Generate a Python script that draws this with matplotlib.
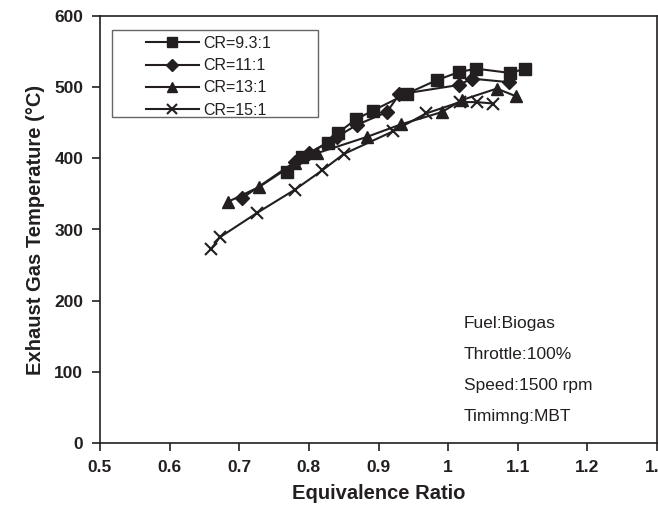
import matplotlib
matplotlib.use("Agg")
import matplotlib.pyplot as plt
from matplotlib.patches import Rectangle

plt.rcParams['font.family'] = ['Liberation Sans', 'DejaVu Sans']

# Data
phi_93 = [0.768, 0.790, 0.828, 0.842, 0.868, 0.892, 0.941, 0.984, 1.015, 1.040, 1.089, 1.111]
egt_93 = [381, 402, 422, 436, 455, 467, 491, 510, 521, 526, 520, 526]

phi_11 = [0.704, 0.780, 0.800, 0.840, 0.869, 0.912, 0.930, 1.015, 1.034, 1.087]
egt_11 = [344, 395, 407, 430, 447, 465, 490, 503, 512, 507]

phi_13 = [0.684, 0.729, 0.780, 0.811, 0.883, 0.933, 0.991, 1.020, 1.070, 1.098]
egt_13 = [339, 360, 393, 407, 430, 448, 465, 482, 498, 487]

phi_15 = [0.659, 0.672, 0.725, 0.780, 0.819, 0.850, 0.921, 0.968, 1.017, 1.041, 1.065]
egt_15 = [272, 289, 323, 356, 383, 406, 438, 463, 479, 479, 477]

labels = ["CR=9.3:1", "CR=11:1", "CR=13:1", "CR=15:1"]
notes = ["Fuel:Biogas", "Throttle:100%", "Speed:1500 rpm", "Timimng:MBT"]

xticks = [0.5, 0.6, 0.7, 0.8, 0.9, 1.0, 1.1, 1.2, 1.3]
xticklabels = ["0.5", "0.6", "0.7", "0.8", "0.9", "1", "1.1", "1.2", "1.3"]
yticks = [0, 100, 200, 300, 400, 500, 600]

c = "#231f20"
fig = plt.figure(figsize=(6.58, 5.11), dpi=100)
ax = fig.add_axes([100/658, 1-443/511, 557/658, 427/511])

ax.plot(phi_93, egt_93, color=c, lw=1.5, marker='s', ms=8, label=labels[0])
ax.plot(phi_11, egt_11, color=c, lw=1.5, marker='D', ms=7, label=labels[1])
ax.plot(phi_13, egt_13, color=c, lw=1.5, marker='^', ms=9, label=labels[2])
ax.plot(phi_15, egt_15, color=c, lw=1.5, marker='x', ms=9, mew=1.5, label=labels[3])

ax.set_xlim(0.5, 1.3)
ax.set_ylim(0, 600)
ax.set_xticks(xticks)
ax.set_xticklabels(xticklabels)
ax.set_yticks(yticks)
ax.tick_params(direction='out', length=6, width=1.2, color=c, labelsize=12.5, pad=6)
for lab in ax.get_xticklabels() + ax.get_yticklabels():
    lab.set_fontweight('bold')
    lab.set_color(c)
for s in ax.spines.values():
    s.set_color(c)
    s.set_linewidth(1.2)

ax.set_xlabel("Equivalence Ratio", fontsize=14.5, fontweight='bold', color=c, labelpad=7)
ax.set_ylabel("Exhaust Gas Temperature (°C)", fontsize=14.5, fontweight='bold', color=c, labelpad=7)

# legend box
ax.add_patch(Rectangle((12/557, (443-117)/427), 206/557, 87/427, transform=ax.transAxes,
                       fill=False, edgecolor='#666666', lw=1.0, zorder=5))
leg = ax.legend(loc='upper left', bbox_to_anchor=(46/557, (443-36)/427), frameon=False,
                fontsize=11.5, handlelength=3.3, handletextpad=0.3, labelspacing=0.45,
                borderpad=0, borderaxespad=0, markerscale=0.85)
for t in leg.get_texts():
    t.set_color(c)

ys = [323, 354, 385, 416]
for t, yp in zip(notes, ys):
    ax.text((464-100)/557, (443-yp)/427, t, transform=ax.transAxes, fontsize=12.5,
            color=c, va='center', ha='left')

fig.savefig("out.png", dpi=100)
